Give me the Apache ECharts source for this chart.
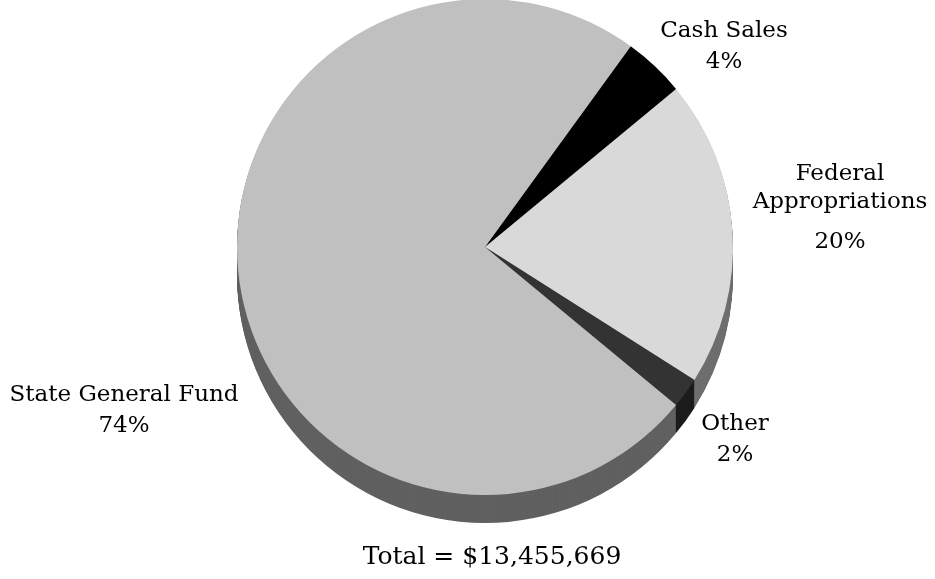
<!DOCTYPE html>
<html>
<head>
<meta charset="utf-8">
<script src="https://cdn.jsdelivr.net/npm/echarts@6/dist/echarts.min.js"></script>
<style>
html,body{margin:0;padding:0;background:#fff;}
#chart{width:935px;height:579px;}
</style>
</head>
<body>
<div id="chart"></div>
<script>
// ---- data ----
const categories = ['Cash Sales', 'Federal Appropriations', 'Other', 'State General Fund'];
const labelNames = ['Cash Sales', 'Federal\nAppropriations', 'Other', 'State General Fund'];
const values = [4, 20, 2, 74];
const totalText = 'Total = $13,455,669';

// ---- styles ----
const topColors = ['#000000', '#d9d9d9', '#333333', '#c0c0c0'];
const sideColors = ['#000000', '#6e6e6e', '#1c1c1c', '#606060'];
const labelPos = [[724, 47], [840, 214], [735, 440], [124, 411]];
const FONT = 'DejaVu Serif';
const CX = 485, CY = 247, R = 248, DEPTH = 28;

const pieData = categories.map((c, i) => ({ name: c, value: values[i] }));

const series = [];
for (let d = DEPTH; d >= 1; d--) {
  series.push({
    type: 'pie',
    silent: true,
    center: [CX, CY + d],
    radius: R,
    startAngle: 54,
    clockwise: true,
    label: { show: false },
    labelLine: { show: false },
    emphasis: { disabled: true },
    itemStyle: { color: p => sideColors[p.dataIndex], borderWidth: 0 },
    data: pieData,
    z: 1
  });
}
series.push({
  type: 'pie',
  center: [CX, CY],
  radius: R,
  startAngle: 54,
  clockwise: true,
  avoidLabelOverlap: false,
  emphasis: { disabled: true },
  itemStyle: { color: p => topColors[p.dataIndex], borderWidth: 0 },
  label: {
    show: true,
    position: 'outside',
    color: '#000',
    fontFamily: FONT,
    fontSize: 23,
    formatter: p => {
      const pct = Math.round(p.percent) + '%';
      if (p.dataIndex === 1) return '{n2|' + labelNames[p.dataIndex] + '}\n{q|' + pct + '}';
      return '{n|' + labelNames[p.dataIndex] + '}\n{p|' + pct + '}';
    },
    rich: {
      n: { fontFamily: FONT, fontSize: 23, lineHeight: 30, color: '#000', align: 'center' },
      p: { fontFamily: FONT, fontSize: 23, lineHeight: 31, color: '#000', align: 'center' },
      n2: { fontFamily: FONT, fontSize: 23, lineHeight: 28, color: '#000', align: 'center' },
      q: { fontFamily: FONT, fontSize: 23, lineHeight: 52, color: '#000', align: 'center' }
    }
  },
  labelLine: { show: false },
  labelLayout: params => ({
    x: labelPos[params.dataIndex][0],
    y: labelPos[params.dataIndex][1],
    align: 'center',
    verticalAlign: 'middle',
    hideOverlap: false
  }),
  data: pieData,
  z: 5
});

const chart = echarts.init(document.getElementById('chart'));
chart.setOption({
  backgroundColor: '#ffffff',
  animation: false,
  series: series,
  graphic: [{
    type: 'text',
    x: 492,
    y: 557,
    style: {
      text: totalText,
      fontFamily: FONT,
      fontSize: 25,
      fill: '#000',
      align: 'center',
      verticalAlign: 'middle'
    }
  }]
});
</script>
</body>
</html>
